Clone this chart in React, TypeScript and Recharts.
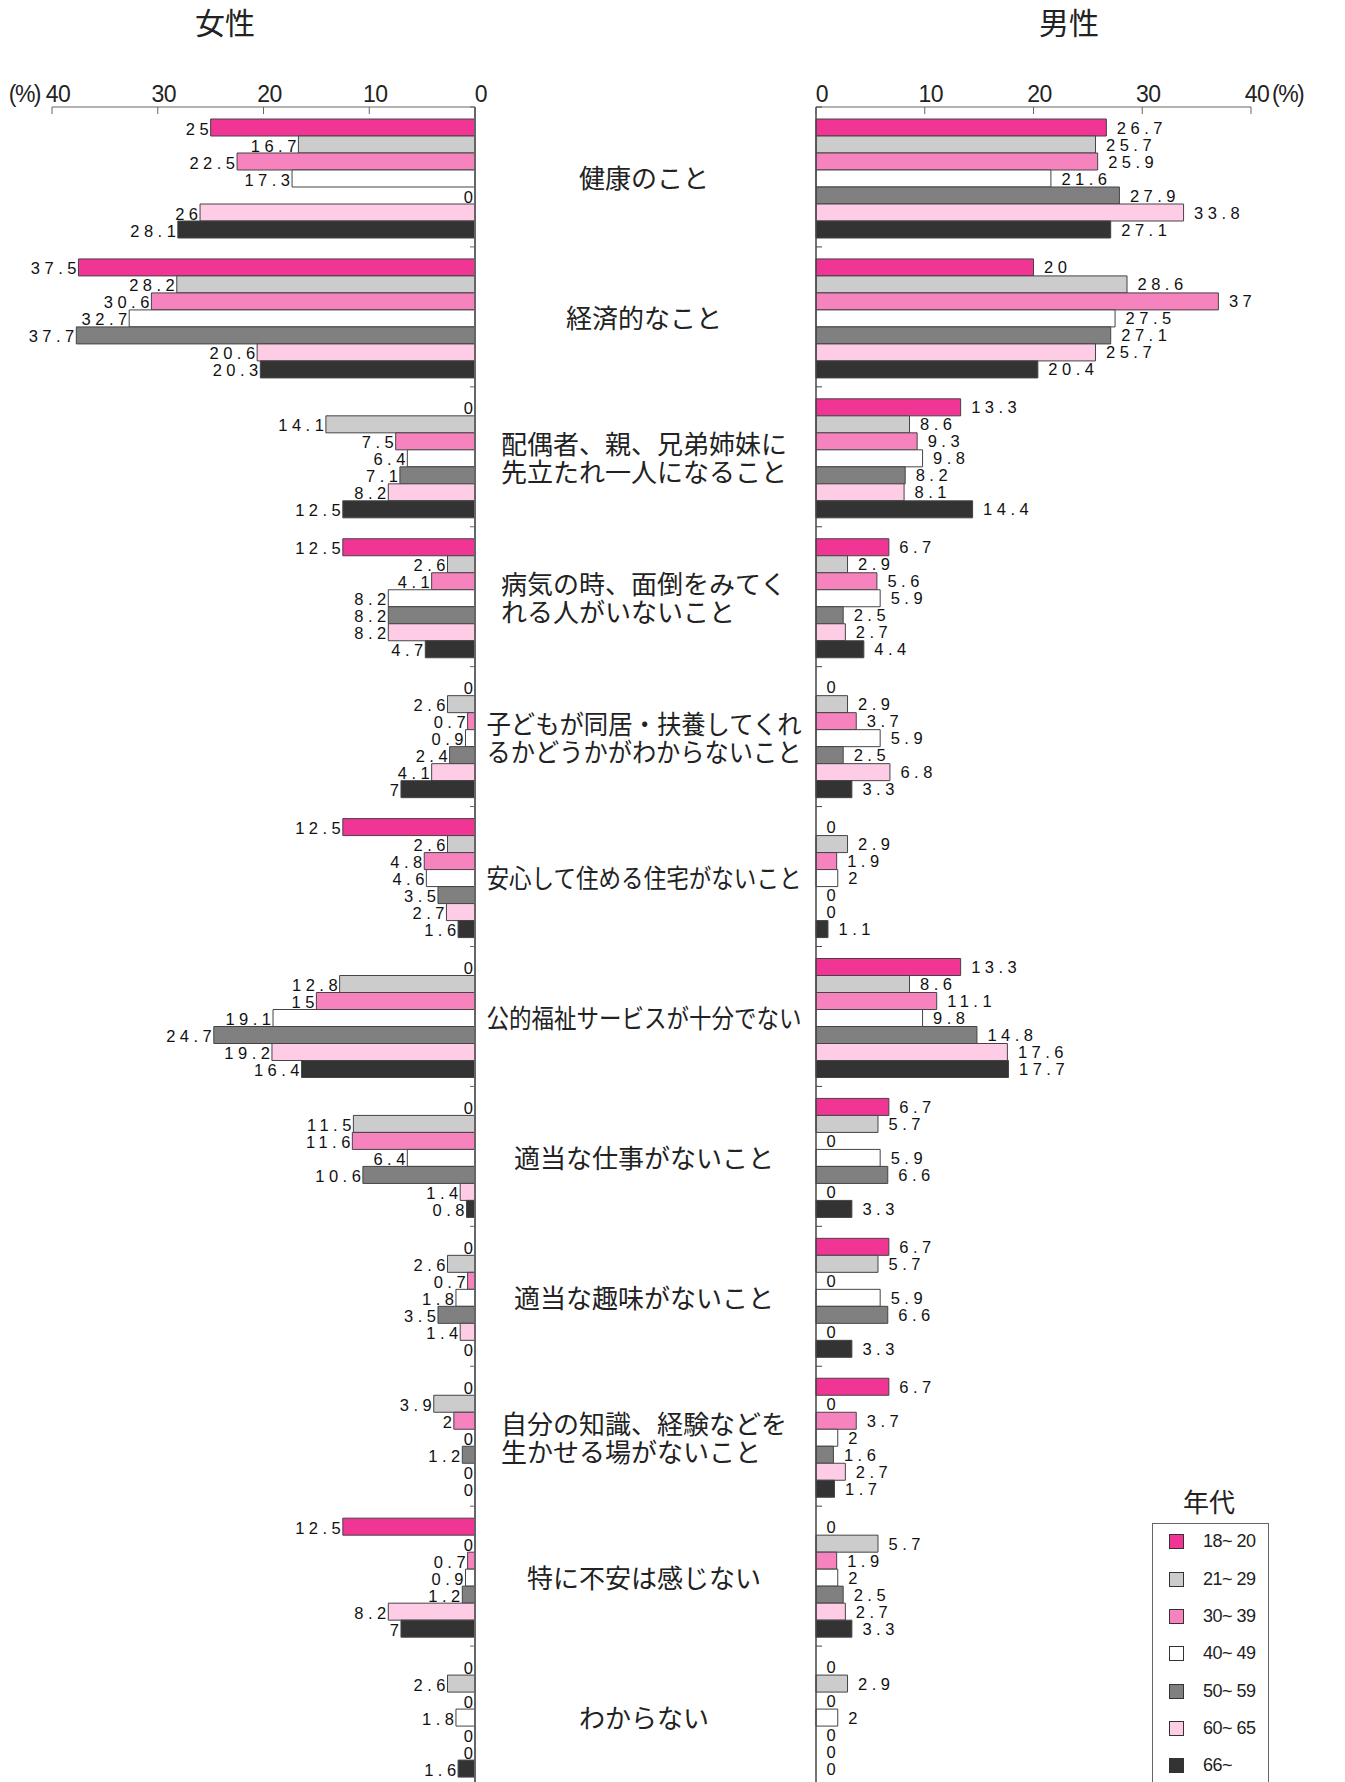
import { BarChart, Bar, XAxis, YAxis, LabelList, Rectangle } from "recharts";

const categories = [
  "健康のこと",
  "経済的なこと",
  "配偶者、親、兄弟姉妹に\n先立たれ一人になること",
  "病気の時、面倒をみてく\nれる人がいないこと",
  "子どもが同居・扶養してくれ\nるかどうかがわからないこと",
  "安心して住める住宅がないこと",
  "公的福祉サービスが十分でない",
  "適当な仕事がないこと",
  "適当な趣味がないこと",
  "自分の知識、経験などを\n生かせる場がないこと",
  "特に不安は感じない",
  "わからない",
];

const ageGroups = ["18~ 20", "21~ 29", "30~ 39", "40~ 49", "50~ 59", "60~ 65", "66~"];
const ageColors = ["#f03595", "#cccccc", "#f783be", "#ffffff", "#808080", "#ffcce5", "#333333"];

// one row per category, columns follow ageGroups
const femaleRows = [
  [25, 16.7, 22.5, 17.3, 0, 26, 28.1],
  [37.5, 28.2, 30.6, 32.7, 37.7, 20.6, 20.3],
  [0, 14.1, 7.5, 6.4, 7.1, 8.2, 12.5],
  [12.5, 2.6, 4.1, 8.2, 8.2, 8.2, 4.7],
  [0, 2.6, 0.7, 0.9, 2.4, 4.1, 7],
  [12.5, 2.6, 4.8, 4.6, 3.5, 2.7, 1.6],
  [0, 12.8, 15, 19.1, 24.7, 19.2, 16.4],
  [0, 11.5, 11.6, 6.4, 10.6, 1.4, 0.8],
  [0, 2.6, 0.7, 1.8, 3.5, 1.4, 0],
  [0, 3.9, 2, 0, 1.2, 0, 0],
  [12.5, 0, 0.7, 0.9, 1.2, 8.2, 7],
  [0, 2.6, 0, 1.8, 0, 0, 1.6],
];

const maleRows = [
  [26.7, 25.7, 25.9, 21.6, 27.9, 33.8, 27.1],
  [20, 28.6, 37, 27.5, 27.1, 25.7, 20.4],
  [13.3, 8.6, 9.3, 9.8, 8.2, 8.1, 14.4],
  [6.7, 2.9, 5.6, 5.9, 2.5, 2.7, 4.4],
  [0, 2.9, 3.7, 5.9, 2.5, 6.8, 3.3],
  [0, 2.9, 1.9, 2, 0, 0, 1.1],
  [13.3, 8.6, 11.1, 9.8, 14.8, 17.6, 17.7],
  [6.7, 5.7, 0, 5.9, 6.6, 0, 3.3],
  [6.7, 5.7, 0, 5.9, 6.6, 0, 3.3],
  [6.7, 0, 3.7, 2, 1.6, 2.7, 1.7],
  [0, 5.7, 1.9, 2, 2.5, 2.7, 3.3],
  [0, 2.9, 0, 2, 0, 0, 0],
];

const axisTicks = [0, 10, 20, 30, 40];

const buildData = (rows: number[][]) =>
  categories.map((name, i) => {
    const row: any = { name };
    ageGroups.forEach((_, j) => {
      row[`a${j}`] = rows[i][j];
    });
    return row;
  });

const femaleData = buildData(femaleRows);
const maleData = buildData(maleRows);

const NUM_FONT = "'Liberation Sans', Arial, sans-serif";
const JP_FONT = "'Noto Sans CJK JP', 'Noto Sans', sans-serif";

const barBox = (p: any) => {
  const vb = p.viewBox ?? {};
  const x = Number(vb.x ?? p.x ?? 0);
  const w = Number(vb.width ?? p.width ?? 0);
  const y = Number(vb.y ?? p.y ?? 0);
  const h = Number(vb.height ?? p.height ?? 0);
  return { left: Math.min(x, x + w), right: Math.max(x, x + w), cy: y + h / 2 };
};

const fmt = (v: any) => String(Math.round(Number(v) * 10) / 10);

const femaleLabel = (p: any) => {
  const { left, cy } = barBox(p);
  return (
    <text x={left + 2.5} y={cy + 1} textAnchor="end" dominantBaseline="central" fontSize={16.5} letterSpacing={4.5} fontFamily={NUM_FONT} fill="#111">
      {fmt(p.value)}
    </text>
  );
};

const maleLabel = (p: any) => {
  const { right, cy } = barBox(p);
  return (
    <text x={right + 10.5} y={cy} textAnchor="start" dominantBaseline="central" fontSize={16.5} letterSpacing={4.5} fontFamily={NUM_FONT} fill="#111">
      {fmt(p.value)}
    </text>
  );
};

// zero-valued bars keep a hairline rect so their label is placed, but nothing is drawn
const barShape = (p: any) => (Math.abs(Number(p.width)) < 0.5 ? <g /> : <Rectangle {...p} />);

const valueTick = (side: "left" | "right") => (props: any) => {
  const { x, y, payload } = props;
  return (
    <g>
      <line x1={x} x2={x} y1={y} y2={y + 7} stroke="#666" />
      <text x={x + 6} y={y - 5.3} textAnchor="middle" fontSize={23} letterSpacing={-0.5} fontFamily={NUM_FONT} fill="#222">
        {payload.value}
      </text>
      {payload.value === 40 && (
        <text
          x={side === "left" ? x - 12 : x + 21}
          y={y - 5.3}
          textAnchor={side === "left" ? "end" : "start"}
          fontSize={23}
          letterSpacing={-1.5}
          fontFamily={NUM_FONT}
          fill="#222"
        >
          (%)
        </text>
      )}
    </g>
  );
};

const MAX_LINE = 315;

const categoryTick = (props: any) => {
  const { x, y, payload } = props;
  const half = payload?.offset || 69.9;
  const lines = String(payload.value).split("\n");
  const cx = x + 169;
  const fs = 26;
  const widths = lines.map((l) => Math.min(l.length * fs, MAX_LINE));
  const blockW = Math.max(...widths);
  const left = cx - blockW / 2;
  const lh = 27.8;
  return (
    <g>
      <line x1={x - 5} x2={x} y1={y - half} y2={y - half} stroke="#666" />
      {lines.map((l, i) => {
        const ly = y + (i - (lines.length - 1) / 2) * lh;
        const squeeze = l.length * fs > MAX_LINE;
        return (
          <text
            key={i}
            x={lines.length > 1 ? left : cx}
            y={ly}
            textAnchor={lines.length > 1 ? "start" : "middle"}
            dominantBaseline="central"
            fontSize={fs}
            fontFamily={JP_FONT}
            fill="#222"
            {...(squeeze ? { textLength: MAX_LINE, lengthAdjust: "spacingAndGlyphs" } : {})}
          >
            {l}
          </text>
        );
      })}
    </g>
  );
};

const maleCategoryTick = (props: any) => {
  const { x, y, payload } = props;
  const half = payload?.offset || 69.9;
  return <line x1={x} x2={x + 6} y1={y - half} y2={y - half} stroke="#444" />;
};

const CHART_W = 1345;
const CHART_H = 1786;

export default function App() {
  return (
    <div style={{ position: "absolute", left: 0, top: 0, width: 1345, height: 1782, overflow: "hidden", background: "#fff" }}>
      <div style={{ position: "absolute", left: 0, top: 0 }}>
        <BarChart
          width={CHART_W}
          height={CHART_H}
          data={femaleData}
          layout="vertical"
          margin={{ top: 77, right: 0, bottom: 0, left: 52 }}
          barCategoryGap={12}
          barGap={0}
        >
          <XAxis
            type="number"
            orientation="top"
            domain={[0, 40]}
            ticks={axisTicks}
            interval={0}
            reversed
            height={30}
            tickSize={0}
            tickMargin={0}
            axisLine={{ stroke: "#666" }}
            tickLine={false}
            tick={valueTick("left")}
          />
          <YAxis
            type="category"
            dataKey="name"
            orientation="right"
            width={870}
            interval={0}
            tickSize={0}
            tickMargin={0}
            tickLine={false}
            axisLine={{ stroke: "#666", strokeWidth: 2 }}
            tick={categoryTick}
          />
          {ageGroups.map((g, j) => (
            <Bar
              key={g}
              dataKey={`a${j}`}
              name={g}
              fill={ageColors[j]}
              stroke="#444"
              strokeWidth={1}
              minPointSize={0.01}
              shape={barShape}
              isAnimationActive={false}
            >
              <LabelList dataKey={`a${j}`} content={femaleLabel} />
            </Bar>
          ))}
        </BarChart>
      </div>

      <div style={{ position: "absolute", left: 0, top: 0 }}>
        <BarChart
          width={CHART_W}
          height={CHART_H}
          data={maleData}
          layout="vertical"
          margin={{ top: 77, right: 94, bottom: 0, left: 0 }}
          barCategoryGap={12}
          barGap={0}
        >
          <XAxis
            type="number"
            orientation="top"
            domain={[0, 40]}
            ticks={axisTicks}
            interval={0}
            height={30}
            tickSize={0}
            tickMargin={0}
            axisLine={{ stroke: "#666" }}
            tickLine={false}
            tick={valueTick("right")}
          />
          <YAxis
            type="category"
            dataKey="name"
            orientation="left"
            width={816}
            interval={0}
            tickSize={0}
            tickMargin={0}
            tickLine={false}
            axisLine={{ stroke: "#444", strokeWidth: 1.5 }}
            tick={maleCategoryTick}
          />
          {ageGroups.map((g, j) => (
            <Bar
              key={g}
              dataKey={`a${j}`}
              name={g}
              fill={ageColors[j]}
              stroke="#444"
              strokeWidth={1}
              minPointSize={0.01}
              shape={barShape}
              isAnimationActive={false}
            >
              <LabelList dataKey={`a${j}`} content={maleLabel} />
            </Bar>
          ))}
        </BarChart>
      </div>

      {/* titles */}
      <div style={{ position: "absolute", left: 175, top: 0, width: 100, height: 42, lineHeight: "42px", textAlign: "center", fontSize: 30, fontFamily: JP_FONT, color: "#222" }}>
        女性
      </div>
      <div style={{ position: "absolute", left: 1019, top: 0, width: 100, height: 42, lineHeight: "42px", textAlign: "center", fontSize: 30, fontFamily: JP_FONT, color: "#222" }}>
        男性
      </div>

      {/* legend */}
      <div style={{ position: "absolute", left: 1159, top: 1480, width: 100, height: 42, lineHeight: "42px", textAlign: "center", fontSize: 26, fontFamily: JP_FONT, color: "#222" }}>
        年代
      </div>
      <div style={{ position: "absolute", left: 1152, top: 1523, width: 117, height: 300, border: "1px solid #666", boxSizing: "border-box" }} />
      {ageGroups.map((g, j) => (
        <div
          key={g}
          style={{ position: "absolute", left: 1169, top: 1531.7 + j * 37.35, height: 20, display: "flex", alignItems: "center" }}
        >
          <div style={{ width: 15, height: 15, boxSizing: "border-box", background: ageColors[j], border: "1px solid #333" }} />
          <span style={{ marginLeft: 19, fontSize: 18, fontFamily: NUM_FONT, color: "#222", letterSpacing: -0.5, whiteSpace: "pre" }}>{g}</span>
        </div>
      ))}
    </div>
  );
}
